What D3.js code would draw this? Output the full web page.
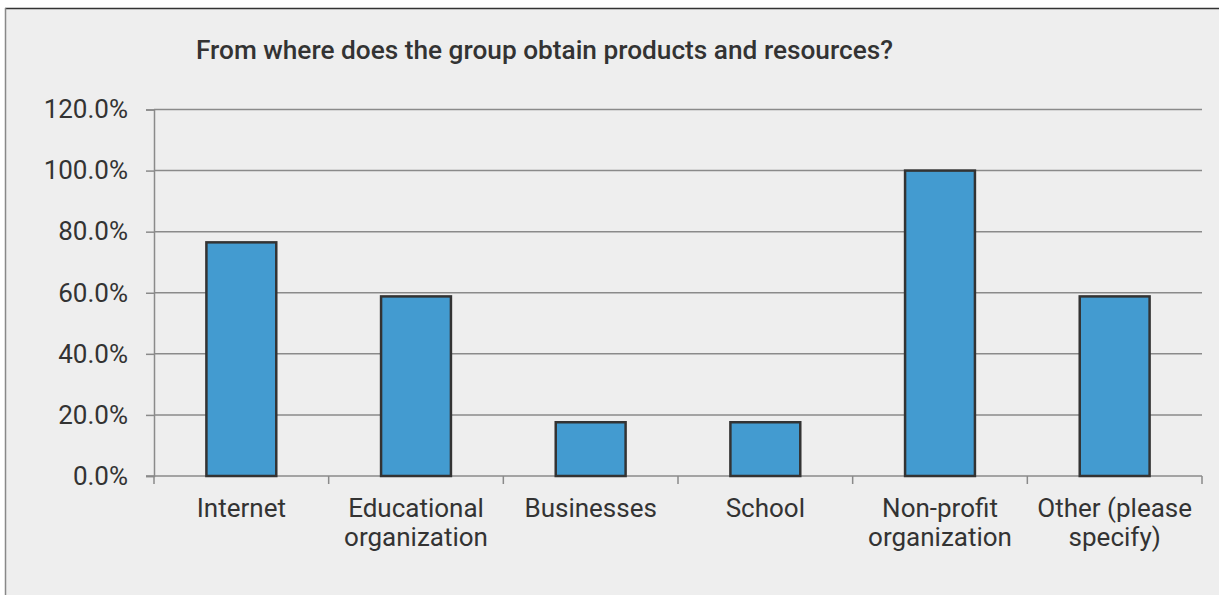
<!DOCTYPE html>
<html>
<head>
<meta charset="utf-8">
<script src="https://cdn.jsdelivr.net/npm/d3@7"></script>
<style>
  html, body { margin: 0; padding: 0; background: #ffffff; }
  svg { display: block; }
  text { font-family: Roboto, "Liberation Sans", Arial, sans-serif; fill: #333333; }
</style>
</head>
<body>
<svg id="chart" width="1219" height="595"></svg>
<script>
// Survey responses: share of groups using each source
const categories = [
  ["Internet"],
  ["Educational", "organization"],
  ["Businesses"],
  ["School"],
  ["Non-profit", "organization"],
  ["Other (please", "specify)"]
];
const values = [0.765, 0.588, 0.176, 0.176, 1.0, 0.588];
const yTicks = [0, 0.2, 0.4, 0.6, 0.8, 1.0, 1.2];
const title = "From where does the group obtain products and resources?";

const svg = d3.select("#chart");
const W = 1219, H = 595;
const FONT = "Roboto, 'Liberation Sans', Arial, sans-serif";

// Panel background with frame
svg.append("rect")
  .attr("x", 5).attr("y", 8)
  .attr("width", W + 10).attr("height", H + 10)
  .attr("fill", "#eeeeee");
svg.append("line")
  .attr("x1", 5).attr("x2", W).attr("y1", 8.5).attr("y2", 8.5)
  .attr("stroke", "#333333").attr("stroke-width", 1.5);
svg.append("line")
  .attr("x1", 5.5).attr("x2", 5.5).attr("y1", 8).attr("y2", H)
  .attr("stroke", "#888888").attr("stroke-width", 1.5);

const plot = { left: 154, right: 1202, top: 109.5, bottom: 476 };

const x = d3.scaleBand()
  .domain(d3.range(categories.length))
  .range([plot.left, plot.right])
  .padding(0);

const y = d3.scaleLinear()
  .domain([0, 1.2])
  .range([plot.bottom, plot.top]);

// Horizontal gridlines
svg.append("g")
  .selectAll("line")
  .data(yTicks.slice(1))
  .join("line")
  .attr("x1", plot.left).attr("x2", plot.right)
  .attr("y1", d => y(d)).attr("y2", d => y(d))
  .attr("stroke", "#8a8a8a").attr("stroke-width", 1.5);

// Y axis
const yAxis = svg.append("g")
  .attr("transform", `translate(${plot.left},0)`)
  .call(d3.axisLeft(y).tickValues(yTicks).tickFormat(d3.format(".1%")).tickSize(8).tickPadding(18));
yAxis.attr("font-family", FONT);
yAxis.select(".domain").attr("stroke", "#8a8a8a").attr("stroke-width", 1.5);
yAxis.selectAll(".tick line").attr("stroke", "#8a8a8a").attr("stroke-width", 1.5);
yAxis.selectAll(".tick text")
  .attr("font-size", 26)
  .attr("fill", "#333333");

// X axis baseline and category separators
const xAxis = svg.append("g")
  .attr("transform", `translate(0,${plot.bottom})`);
xAxis.append("line")
  .attr("x1", plot.left - 8).attr("x2", plot.right)
  .attr("stroke", "#8a8a8a").attr("stroke-width", 1.5);
xAxis.selectAll("line.sep")
  .data(d3.range(categories.length + 1))
  .join("line")
  .attr("class", "sep")
  .attr("x1", i => plot.left + i * x.step())
  .attr("x2", i => plot.left + i * x.step())
  .attr("y1", 0).attr("y2", 8)
  .attr("stroke", "#8a8a8a").attr("stroke-width", 1.5);

// Bars
const barW = x.bandwidth() * 0.4;
svg.append("g")
  .selectAll("rect")
  .data(values)
  .join("rect")
  .attr("x", (d, i) => x(i) + (x.bandwidth() - barW) / 2)
  .attr("y", d => y(d))
  .attr("width", barW)
  .attr("height", d => y(0) - y(d))
  .attr("fill", "#439bd0")
  .attr("stroke", "#333333")
  .attr("stroke-width", 2.5);

// Category labels
const labels = svg.append("g")
  .selectAll("text")
  .data(categories)
  .join("text")
  .attr("text-anchor", "middle")
  .attr("font-size", 26)
  .attr("transform", (d, i) => `translate(${x(i) + x.bandwidth() / 2},${plot.bottom + 41})`);
labels.selectAll("tspan")
  .data(d => d)
  .join("tspan")
  .attr("x", 0)
  .attr("dy", (d, j) => j === 0 ? 0 : 29)
  .text(d => d);

// Title
svg.append("text")
  .attr("x", 196).attr("y", 59)
  .attr("font-size", 26)
  .attr("font-weight", 500)
  .attr("textLength", 697)
  .attr("lengthAdjust", "spacingAndGlyphs")
  .text(title);
</script>
</body>
</html>
